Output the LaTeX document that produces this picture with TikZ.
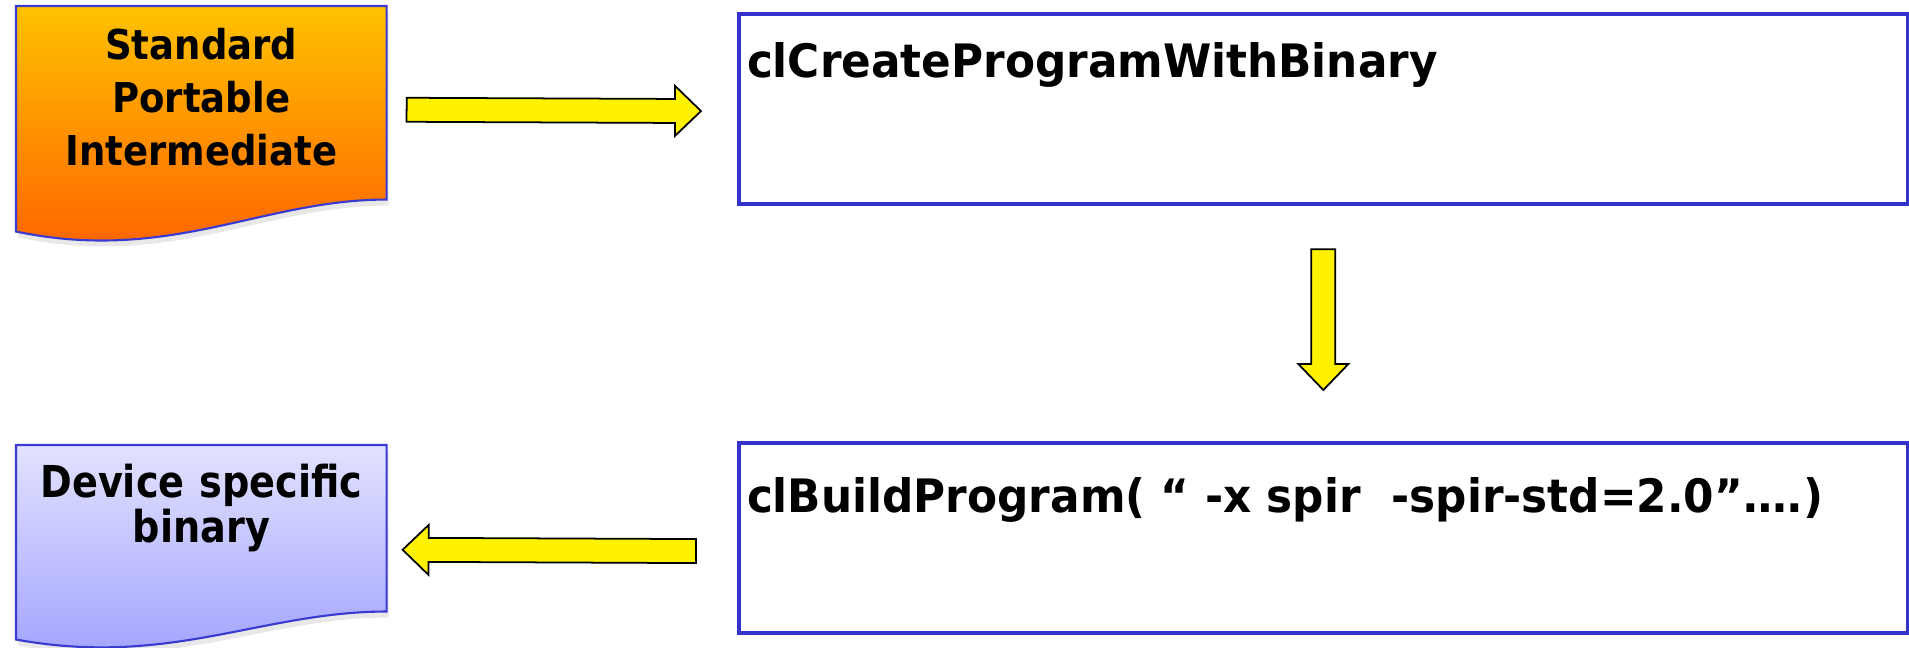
\documentclass[tikz,border=0pt]{standalone}
\usepackage{fontspec}
\setmainfont{DejaVu Sans}
\newfontfamily\callfont{DejaVu Sans}[FakeStretch=0.95]
\newfontfamily\spirfont{DejaVu Sans}[FakeStretch=0.9]
\newfontfamily\binfont{DejaVu Sans}[FakeStretch=0.87]
\definecolor{boxblue}{RGB}{51, 51, 204}
\definecolor{docblue}{RGB}{58, 58, 208}
\definecolor{spirtop}{RGB}{255, 194, 0}
\definecolor{spirmid}{RGB}{255, 174, 0}
\definecolor{spirbot}{RGB}{255, 95, 0}
\definecolor{bintop}{RGB}{226, 226, 255}
\definecolor{binbot}{RGB}{160, 160, 255}
\usetikzlibrary{calc, backgrounds, shadows}
\tikzset{
    docnode/.style={rectangle, inner sep=0pt, text width=3.69cm, align=center,
                    anchor=north west},
    docshape/.style={draw=docblue, line width=0.6pt,
                     drop shadow={opacity=0.18, shadow xshift=0.02cm, shadow yshift=-0.06cm}},
    callbox/.style={rectangle, draw=boxblue, line width=0.04cm, inner xsep=0.08cm, inner ysep=0pt,
                    text width=11.52cm, align=left, anchor=north west,
                    font=\callfont\bfseries\fontsize{13.1}{16}\selectfont},
    blockarrow/.style={draw=black, fill=yellow, line width=0.5pt, line join=miter,
        to path={(\tikztostart) coordinate (ba-s) (\tikztotarget) coordinate (ba-e)
            ($(ba-s)!0.12cm!90:(ba-e)$)
            -- ($(ba-e)!0.26cm!(ba-s)!0.12cm!-90:(ba-s)$)
            -- ($(ba-e)!0.26cm!(ba-s)!0.25cm!-90:(ba-s)$)
            -- (ba-e)
            -- ($(ba-e)!0.26cm!(ba-s)!0.25cm!90:(ba-s)$)
            -- ($(ba-e)!0.26cm!(ba-s)!0.12cm!90:(ba-s)$)
            -- ($(ba-s)!0.12cm!-90:(ba-e)$) -- cycle}},
}

\begin{document}
\begin{tikzpicture}[x=0.01cm, y=-0.01cm]
    \useasboundingbox (0,0) rectangle (1909,647);

    \node[docnode, text height=0.523cm, text depth=1.397cm,
          font=\spirfont\bfseries\fontsize{11.7}{15.1}\selectfont] (spir) at (16,6) {Standard\\Portable\\Intermediate};
    \node[docnode, text height=0.52cm, text depth=1.13cm,
          font=\binfont\bfseries\fontsize{12.5}{12.8}\selectfont] (binary) at (16,445) {Device specific\\binary};

    \node[callbox, text height=0.63cm, text depth=1.27cm] (create) at (737,12) {clCreateProgramWithBinary};
    \node[callbox, text height=0.69cm, text depth=1.21cm] (build) at (737,441)
        {clBuildProgram( “ -x spir\ \ -spir-std=2.0”….)};

    \begin{scope}[on background layer]
        \path[docshape, top color=spirtop, middle color=spirmid, bottom color=spirbot]
            (spir.north west) -- (spir.north east) -- (spir.south east)
            .. controls ($(spir.south east)+(-125,0)$) and ($(spir.south west)+(154,64)$) .. ($(spir.south west)+(0,32)$)
            -- cycle;
        \path[docshape, top color=bintop, bottom color=binbot]
            (binary.north west) -- (binary.north east) -- (binary.south east)
            .. controls ($(binary.south east)+(-125,0)$) and ($(binary.south west)+(154,56)$) .. ($(binary.south west)+(0,28)$)
            -- cycle;
    \end{scope}

    \draw[blockarrow] ($(spir.east)+(20,7)$) to ($(create.west)+(-36,2)$);
    \draw[blockarrow] ($(create.south)+(0,43)$) to ($(build.north)+(0,-51)$);
    \draw[blockarrow] ($(build.west)+(-41,13)$) to ($(binary.east)+(16,21.5)$);
\end{tikzpicture}
\end{document}
